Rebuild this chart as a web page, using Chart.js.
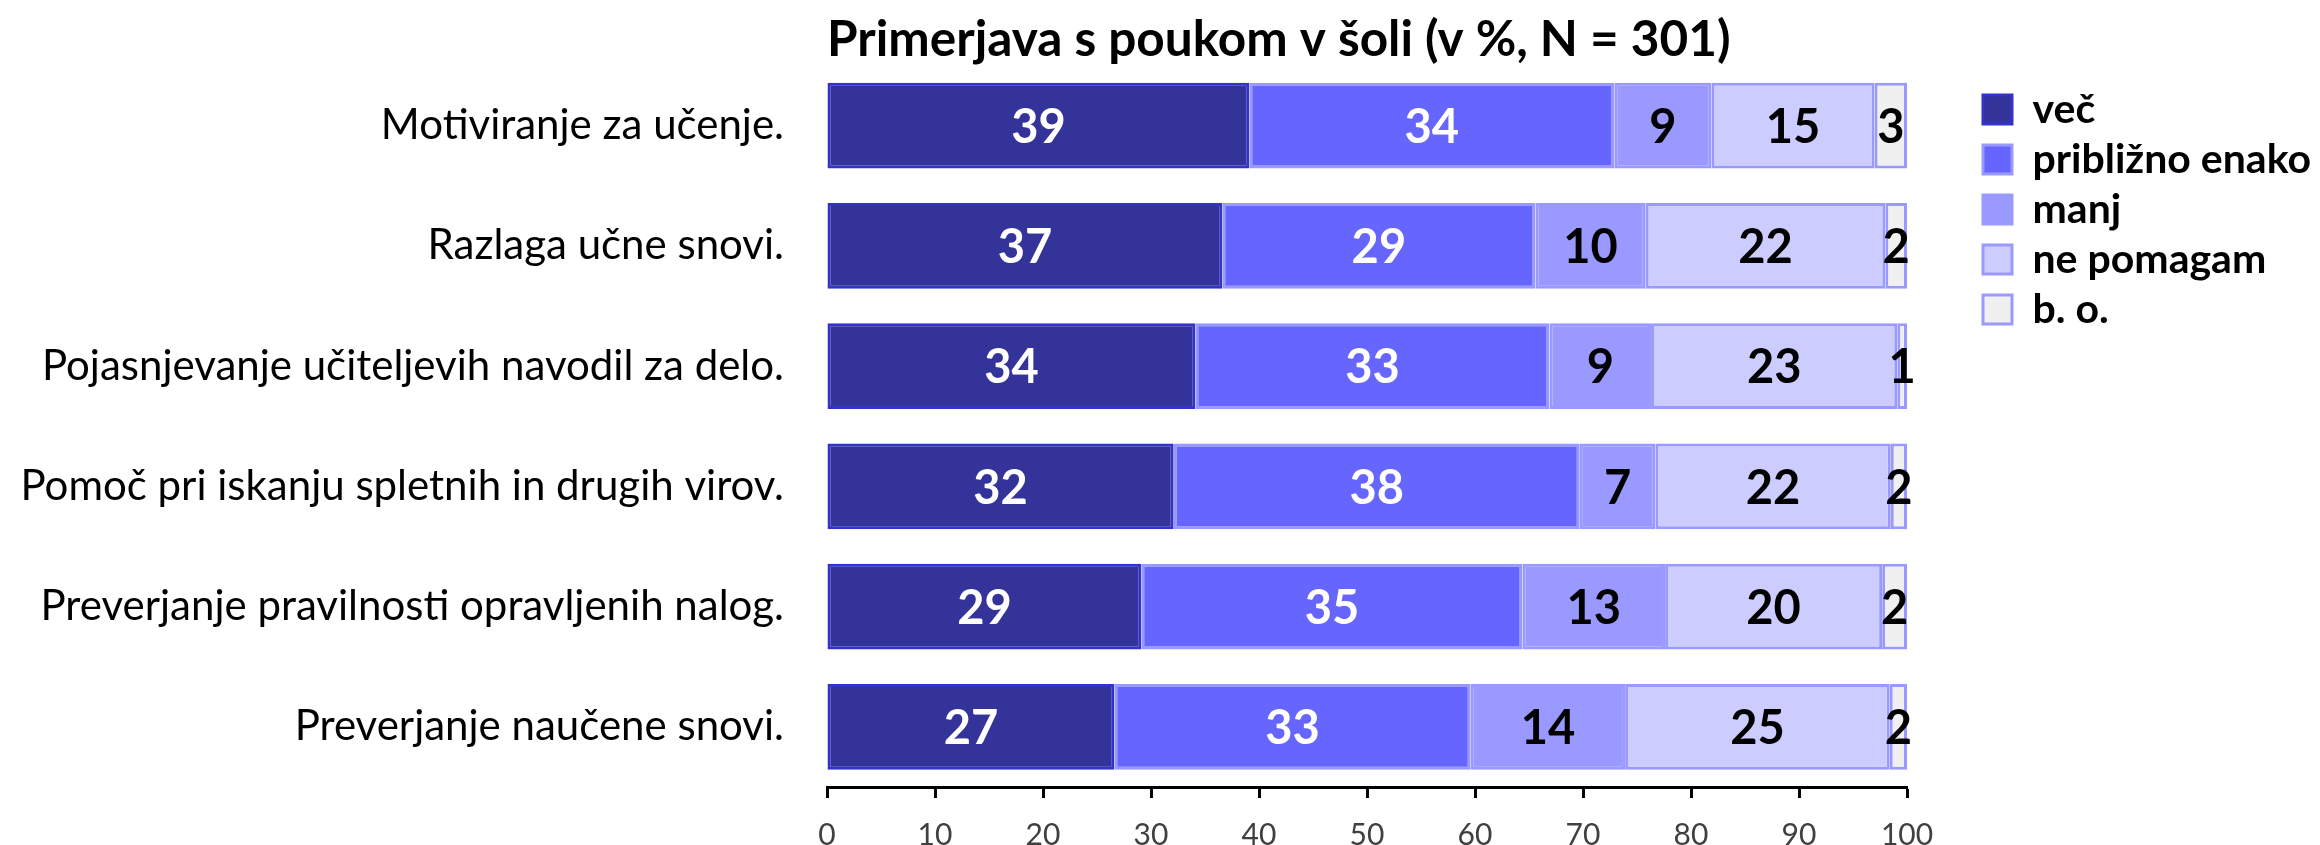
<!DOCTYPE html>
<html>
<head>
<meta charset="utf-8">
<script src="https://cdn.jsdelivr.net/npm/chart.js@4/dist/chart.umd.min.js"></script>
<style>
  html, body { margin: 0; padding: 0; background: #fff; overflow: hidden; }
  #wrap { width: 2320px; height: 845px; position: relative; }
  canvas { display: block; }
</style>
</head>
<body>
<div id="wrap"><canvas id="c" width="2320" height="845"></canvas></div>
<script>
const TITLE = 'Primerjava s poukom v šoli (v %, N = 301)';
const categories = [
  'Motiviranje za učenje.',
  'Razlaga učne snovi.',
  'Pojasnjevanje učiteljevih navodil za delo.',
  'Pomoč pri iskanju spletnih in drugih virov.',
  'Preverjanje pravilnosti opravljenih nalog.',
  'Preverjanje naučene snovi.'
];
const seriesNames = ['več', 'približno enako', 'manj', 'ne pomagam', 'b. o.'];
const vec        = [39.1, 36.6, 34.1, 32.1, 29.1, 26.6];
const priblizno  = [33.8, 29.0, 32.8, 37.6, 35.3, 33.0];
const manj       = [9.0, 10.2, 9.4, 7.0, 13.2, 14.3];
const nePomagam  = [15.1, 22.2, 22.8, 21.8, 20.1, 24.5];
const bo         = [3.0, 2.0, 0.9, 1.5, 2.3, 1.6];
const xTicks     = [0, 10, 20, 30, 40, 50, 60, 70, 80, 90, 100];

const fills   = ['#333399', '#6666ff', '#9999ff', '#ccccff', '#f0f0f0'];
const borders = ['#3333cc', '#9999ff', '#9999ff', '#9999ff', '#9999ff'];
const labelColors = ['#ffffff', '#ffffff', '#000000', '#000000', '#000000'];
const FONT = 'Lato';

const seriesValues = [vec, priblizno, manj, nePomagam, bo];
const datasets = seriesValues.map((vals, i) => ({
  label: seriesNames[i],
  data: vals,
  backgroundColor: fills[i],
  borderColor: borders[i],
  borderWidth: 3,
  borderSkipped: false,
  categoryPercentage: 1,
  barPercentage: 0.715
}));

const valueLabels = {
  id: 'valueLabels',
  afterDatasetsDraw(chart) {
    const ctx = chart.ctx;
    ctx.save();
    ctx.font = 'bold 47px ' + FONT;
    ctx.textAlign = 'center';
    ctx.textBaseline = 'middle';
    chart.data.datasets.forEach((ds, i) => {
      const meta = chart.getDatasetMeta(i);
      meta.data.forEach((bar, j) => {
        const p = bar.getProps(['x', 'base', 'y'], true);
        ctx.fillStyle = labelColors[i];
        ctx.fillText(String(Math.round(ds.data[j])), (p.x + p.base) / 2, p.y + 2);
      });
    });
    ctx.restore();
  }
};

const legendPlace = {
  id: 'legendPlace',
  afterLayout(chart) {
    const l = chart.legend;
    if (!l) return;
    l.left = 1974; l.right = 2320; l.width = 2320 - 1974;
    l.top = 80; l.bottom = 845; l.height = 845 - 80;
  }
};

new Chart(document.getElementById('c'), {
  type: 'bar',
  data: { labels: categories, datasets },
  plugins: [valueLabels, legendPlace],
  options: {
    indexAxis: 'y',
    responsive: false,
    animation: false,
    events: [],
    layout: { padding: { left: 0, right: 313, top: 0, bottom: 0 } },
    scales: {
      x: {
        stacked: true,
        min: 0, max: 100,
        afterBuildTicks: s => { s.ticks = xTicks.map(v => ({ value: v })); },
        afterFit: s => { s.height = 58; },
        grid: { display: true, drawOnChartArea: false, drawTicks: true, tickLength: 11, tickWidth: 3, color: '#000000' },
        border: { display: true, color: '#000000', width: 3 },
        ticks: { color: '#404040', font: { family: FONT, size: 30 }, padding: 19 }
      },
      y: {
        stacked: true,
        afterFit: s => { s.width = 827; },
        grid: { display: false, drawTicks: true, tickLength: 43 },
        border: { display: false },
        ticks: { color: '#000000', font: { family: FONT, size: 42 }, padding: 0 }
      }
    },
    plugins: {
      title: {
        display: true,
        text: TITLE,
        align: 'start',
        fullSize: false,
        color: '#000000',
        font: { family: FONT, size: 49.5, weight: 'bold', lineHeight: 1 },
        padding: { top: 15, bottom: 1 }
      },
      legend: {
        display: true,
        position: 'right',
        align: 'start',
        maxWidth: 100,
        labels: {
          color: '#000000',
          boxWidth: 29,
          boxHeight: 29,
          padding: 9,
          font: { family: FONT, size: 41, weight: 'bold' }
        }
      },
      tooltip: { enabled: false }
    }
  }
});
</script>
</body>
</html>
